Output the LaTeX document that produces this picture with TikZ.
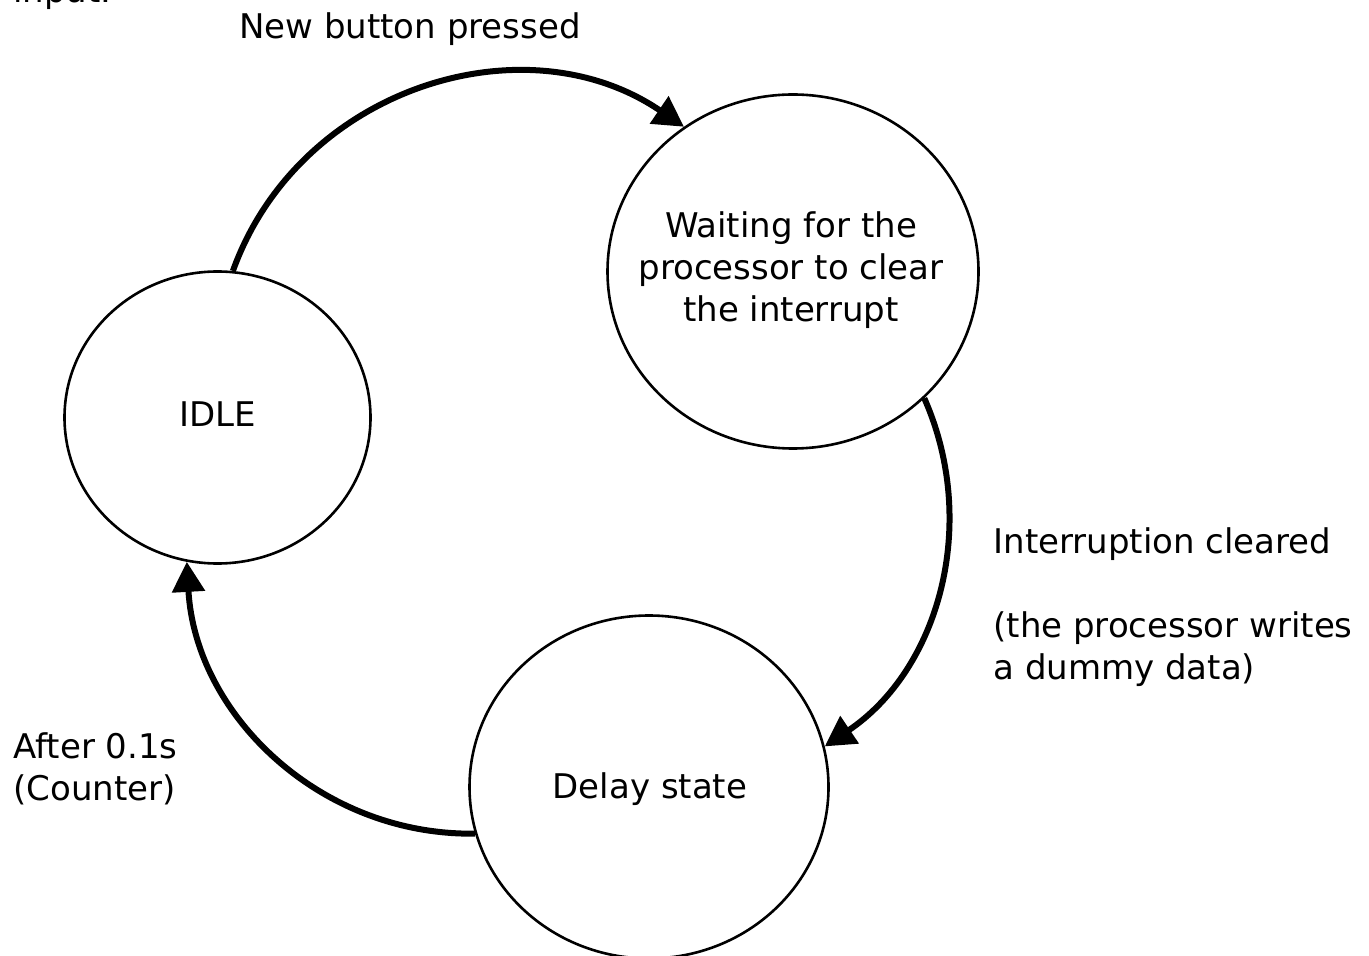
\documentclass[tikz,border=0pt]{standalone}
\usepackage{fontspec}
\setmainfont{DejaVu Sans}
\usetikzlibrary{shapes.geometric,arrows.meta}
\begin{document}
\begin{tikzpicture}[x=0.5pt,y=-0.5pt,
  state/.style={ellipse, draw, line width=1.3pt, inner sep=0pt},
  lbl/.style={font=\fontsize{17}{21}\selectfont, inner sep=0pt, text=black},
  trans/.style={line width=3pt, -{Triangle[length=15pt,width=16pt]}}]
\useasboundingbox (0,0) rectangle (1369,956);
\clip (0,0) rectangle (1369,956);
% states
\node[state, minimum width=153pt, minimum height=146pt] (idle) at (217.5,417.5) {};
\node[state, minimum width=185.5pt, minimum height=177pt] (wait) at (793,271.5) {};
\node[state, minimum width=179.5pt, minimum height=171.5pt] (delay) at (649,787) {};
% state texts
\node[lbl] (idletxt) at (217.5,414) {IDLE};
\node[lbl, align=center] (waittxt) at (791,270) {Waiting for the\\processor to clear\\the interrupt};
\node[lbl] (delaytxt) at (650,789) {Delay state};
% transitions
\draw[trans] (idle.84) .. controls (298.6,88) and (524,18) .. (wait.127.5);
\draw[trans] (wait.-44.7) .. controls (979.9,524.1) and (938.7,669.6) .. (delay.13.4);
\draw[trans] (delay.195.9) .. controls (320.2,835.7) and (195.4,714.7) .. (idle.258.8);
% transition labels
\node[lbl, anchor=base west] (t0) at (13,2.5) {input.};
\node[lbl, anchor=base] (t1) at (410,39) {New button pressed};
\node[lbl, anchor=north west, align=left] (t2) at (993,527) {Interruption cleared\\[21pt](the processor writes\\a dummy data)};
\node[lbl, anchor=north west, align=left] (t3) at (13,732) {After 0.1s\\(Counter)};
\end{tikzpicture}
\end{document}
